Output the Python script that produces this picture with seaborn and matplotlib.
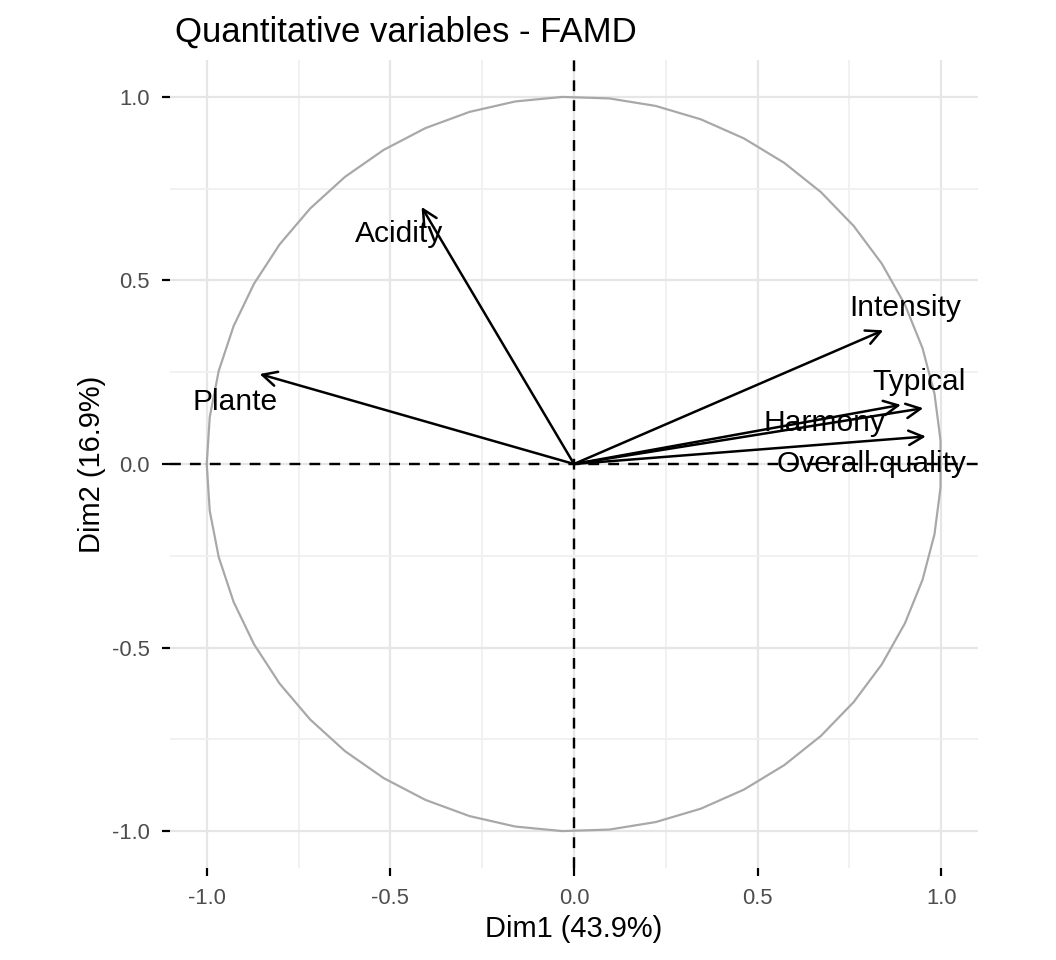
import numpy as np
import matplotlib
matplotlib.use("Agg")
import matplotlib.pyplot as plt
import seaborn as sns

# FAMD quantitative variables: coordinates on Dim1 / Dim2
variables = ["Plante", "Acidity", "Intensity", "Harmony", "Typical", "Overall.quality"]
dim1 = [-0.856, -0.415, 0.842, 0.890, 0.951, 0.958]
dim2 = [0.245, 0.700, 0.364, 0.161, 0.152, 0.075]
# label positions (repelled a bit like in the original)
lab_x = [-0.924, -0.477, 0.902, 0.681, 0.940, 0.809]
lab_y = [0.169, 0.625, 0.426, 0.112, 0.224, 0.000]

ticks = [-1.0, -0.5, 0.0, 0.5, 1.0]
tick_labels = ["-1.0", "-0.5", "0.0", "0.5", "1.0"]

sns.set_theme(style="whitegrid")
plt.rcParams["font.family"] = ["Liberation Sans", "DejaVu Sans"]

fig = plt.figure(figsize=(1056 / 144, 960 / 144), dpi=144)
ax = fig.add_axes([170 / 1056, 92 / 960, 808 / 1056, 808 / 960])

# correlation circle (polygon, like the original)
t = np.pi + np.linspace(0, 2 * np.pi, 50)
sns.lineplot(x=np.cos(t), y=np.sin(t), sort=False, estimator=None,
             color="#a8a8a8", lw=1.1, ax=ax)

ax.axhline(0, color="black", ls="--", lw=1.2, dashes=(4.5, 3.8))
ax.axvline(0, color="black", ls="--", lw=1.2, dashes=(4.5, 3.8))

for i in range(len(variables)):
    ax.annotate("", xy=(dim1[i], dim2[i]), xytext=(0, 0),
                arrowprops=dict(arrowstyle="->", color="black", lw=1.25,
                                mutation_scale=18, shrinkA=0, shrinkB=0))
    ax.text(lab_x[i], lab_y[i], variables[i], ha="center", va="center",
            fontsize=15, color="black")

ax.set_xlim(-1.1, 1.1)
ax.set_ylim(-1.1, 1.1)
ax.set_xticks(ticks)
ax.set_xticklabels(tick_labels)
ax.set_yticks(ticks)
ax.set_yticklabels(tick_labels)
ax.set_xticks([-0.75, -0.25, 0.25, 0.75], minor=True)
ax.set_yticks([-0.75, -0.25, 0.25, 0.75], minor=True)
ax.grid(which="major", color="#e6e6e6", lw=1.1)
ax.grid(which="minor", color="#f0f0f0", lw=0.9)
ax.set_facecolor("white")
for s in ax.spines.values():
    s.set_visible(False)
ax.tick_params(axis="both", which="major", length=4, width=1.1, color="black",
               labelsize=11, labelcolor="#4d4d4d", pad=6, left=True, bottom=True)
ax.tick_params(axis="both", which="minor", length=0)

ax.set_xlabel("Dim1 (43.9%)", fontsize=14.5, color="black", labelpad=3)
ax.set_ylabel("Dim2 (16.9%)", fontsize=14.5, color="black", labelpad=3)
ax.set_title("Quantitative variables - FAMD", fontsize=17.4, loc="left",
             color="black", pad=9, x=0.006)

fig.savefig("out.png", dpi=144)
